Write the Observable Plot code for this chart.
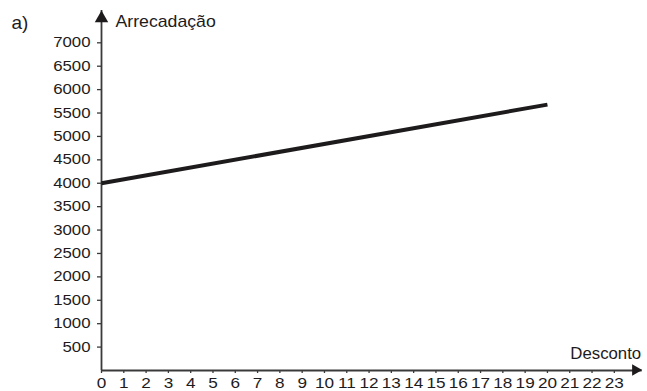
<!DOCTYPE html>
<html><head><meta charset="utf-8">
<script src="https://cdn.jsdelivr.net/npm/d3@7"></script>
<script src="https://cdn.jsdelivr.net/npm/@observablehq/plot@0.6"></script>
<style>body{margin:0;background:#fff;} svg{display:block}</style>
</head><body><div id="chart"></div>
<script>
// ---- data ----
const desconto = [0, 20];
const arrecadacao = [4000, 5680];
const xTicks = d3.range(0, 24);
const yTicks = d3.range(500, 7001, 500);
const xTitle = "Desconto";
const yTitle = "Arrecadação";
const panelLabel = "a)";

const data = desconto.map((d, i) => ({d, v: arrecadacao[i]}));
const ink = "#1e1b1c";
const axisColor = "#3a3a3a";
const font = "'Liberation Sans', Arial, Helvetica, sans-serif";

const plot = Plot.plot({
  width: 647, height: 391,
  marginLeft: 101, marginRight: 5.3, marginTop: 10, marginBottom: 21,
  style: {fontFamily: font, color: ink, background: "#fff", overflow: "visible"},
  x: {domain: [0, 24.25]},
  y: {domain: [0, 7690]},
  marks: [
    Plot.axisX(xTicks, {tickSize: 3, tickPadding: 4, fontSize: 14.3, stroke: axisColor, strokeWidth: 1.3, fill: ink, tickFormat: d => String(d), label: null}),
    Plot.axisY(yTicks, {tickSize: 4, tickPadding: 7, fontSize: 14, stroke: axisColor, strokeWidth: 1.3, fill: ink, tickFormat: d => String(d), label: null}),
    Plot.ruleX([0], {stroke: axisColor, strokeWidth: 1.8}),
    Plot.ruleY([0], {stroke: axisColor, strokeWidth: 1.8}),
    Plot.dot([0], {frameAnchor: "top-left", dy: 7.8, symbol: "triangle", r: 5.0, fill: ink, stroke: "none"}),
    Plot.dot([0], {frameAnchor: "bottom-right", dx: -6.7, dy: -0.5, symbol: "triangle", r: 4.3, rotate: 90, fill: ink, stroke: "none"}),
    Plot.line(data, {x: "d", y: "v", stroke: ink, strokeWidth: 4, strokeLinecap: "butt"}),
    Plot.text([yTitle], {frameAnchor: "top-left", dx: 14, dy: 16.7, textAnchor: "start", lineAnchor: "bottom", fontSize: 17, fill: ink}),
    Plot.text([xTitle], {frameAnchor: "bottom-right", dx: -1, dy: -12, textAnchor: "end", lineAnchor: "bottom", fontSize: 16.8, fill: ink}),
    Plot.text([panelLabel], {frameAnchor: "top-left", dx: -90, dy: 18.3, textAnchor: "start", lineAnchor: "bottom", fontSize: 19, fill: ink})
  ]
});
document.getElementById("chart").appendChild(plot);

// widen tick label glyphs to match the reference's broad digits
plot.querySelectorAll('g[aria-label="x-axis tick label"] text, g[aria-label="y-axis tick label"] text').forEach(t => {
  const L = t.getComputedTextLength();
  t.setAttribute("textLength", (L * 1.2).toFixed(2));
  t.setAttribute("lengthAdjust", "spacingAndGlyphs");
});
// y title slightly wider too
plot.querySelectorAll('g[aria-label="text"] text').forEach(t => {
  if (t.textContent === yTitle) {
    const L = t.getComputedTextLength();
    t.setAttribute("textLength", (L * 1.04).toFixed(2));
    t.setAttribute("lengthAdjust", "spacingAndGlyphs");
  }
});
</script>
</body></html>
